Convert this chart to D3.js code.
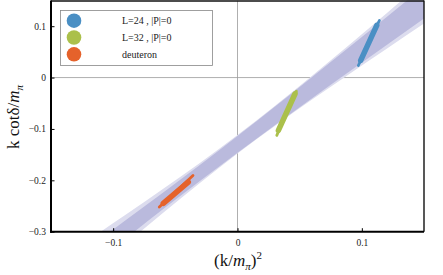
<!DOCTYPE html>
<html><head><meta charset="utf-8">
<script src="https://cdn.jsdelivr.net/npm/d3@7"></script>
<style>body{margin:0;background:#fff}svg{display:block}</style>
</head><body><svg id="c" width="443" height="275"></svg>
<script>
// ---- data ----
const xTicks = [-0.1, 0, 0.1];
const yTicks = [-0.3, -0.2, -0.1, 0, 0.1];
const bandX      = [-0.12, -0.09, -0.06, -0.03, 0, 0.03, 0.06, 0.09, 0.12, 0.15, 0.16];
const bandCenter = [-0.351, -0.2956, -0.2404, -0.1852, -0.130, -0.0748, -0.0196, 0.0356, 0.0908, 0.146, 0.1644];
const innerHalf  = [0.0205, 0.0179, 0.0161, 0.0155, 0.0161, 0.0179, 0.0205, 0.0237, 0.0272, 0.031, 0.0323];
const outerHalf  = [0.0345, 0.0285, 0.0233, 0.0195, 0.018, 0.0195, 0.0233, 0.0285, 0.0345, 0.041, 0.0432];
const seriesNames = ["L=24 , |P|=0", "L=32 , |P|=0", "deuteron"];
const seriesColors = ["#4a8fc4", "#abc04b", "#e5622b"];
// each: [x1,y1,x2,y2] for thin whisker and thick body
const thinSeg = [
  [0.0972, 0.0235, 0.1141, 0.1111],
  [0.0316, -0.1126, 0.0474, -0.0265],
  [-0.0629, -0.252, -0.0358, -0.1905]
];
const thickSeg = [
  [0.0991, 0.0333, 0.112, 0.1014],
  [0.0329, -0.1029, 0.0463, -0.0315],
  [-0.0597, -0.245, -0.0396, -0.2035]
];

// ---- layout ----
const L = 51, R = 424, T = 0.5, B = 231.7;
const svg = d3.select("#c");
const x = d3.scaleLinear().domain([-0.15, 0.15]).range([L, R]);
const y = d3.scaleLinear().domain([-0.3, 0.15]).range([B, T]);
const serif = "'Liberation Serif', 'Times New Roman', serif";

svg.append("defs").append("clipPath").attr("id", "clip")
  .append("rect").attr("x", L).attr("y", T).attr("width", R - L).attr("height", B - T);

const g = svg.append("g").attr("clip-path", "url(#clip)");

// gridlines
g.append("line").attr("x1", x(0)).attr("x2", x(0)).attr("y1", T).attr("y2", B)
  .attr("stroke", "#9a9a9a").attr("stroke-width", 0.8);
g.append("line").attr("x1", L).attr("x2", R).attr("y1", y(0)).attr("y2", y(0))
  .attr("stroke", "#9a9a9a").attr("stroke-width", 0.8);

const idx = d3.range(bandX.length);
const area = (half) => d3.area()
  .x(i => x(bandX[i]))
  .y0(i => y(bandCenter[i] - half[i]))
  .y1(i => y(bandCenter[i] + half[i]))
  .curve(d3.curveMonotoneX);
g.append("path").attr("d", area(outerHalf)(idx)).attr("fill", "#dcdcee");
g.append("path").attr("d", area(innerHalf)(idx)).attr("fill", "#babadd");

// data marks
const seg = d3.line().x(d => x(d[0])).y(d => y(d[1]));
seriesColors.forEach((c, i) => {
  const t = thinSeg[i], k = thickSeg[i];
  g.append("path").attr("d", seg([[t[0], t[1]], [t[2], t[3]]]))
    .attr("stroke", c).attr("stroke-width", 2.8).attr("stroke-linecap", "round").attr("fill", "none");
  g.append("path").attr("d", seg([[k[0], k[1]], [k[2], k[3]]]))
    .attr("stroke", c).attr("stroke-width", 5.5).attr("stroke-linecap", "round").attr("fill", "none");
});

// frame
svg.append("line").attr("x1", L).attr("x2", R).attr("y1", T + 0.5).attr("y2", T + 0.5).attr("stroke", "#111").attr("stroke-width", 1.4);
svg.append("line").attr("x1", R).attr("x2", R).attr("y1", T).attr("y2", B).attr("stroke", "#111").attr("stroke-width", 1.4);

// axes
const fmt = d => d === 0 ? "0" : d3.format(".1f")(d).replace("-", "\u2212");
const xAxis = d3.axisBottom(x).tickValues(xTicks).tickSize(-3.5).tickPadding(6).tickFormat(fmt);
const yAxis = d3.axisLeft(y).tickValues(yTicks).tickSize(-3.5).tickPadding(5).tickFormat(fmt);

const gx = svg.append("g").attr("transform", `translate(0,${B})`).call(xAxis);
const gy = svg.append("g").attr("transform", `translate(${L},0)`).call(yAxis);
[gx, gy].forEach(a => {
  a.select(".domain").attr("stroke", "#000").attr("stroke-width", 2);
  a.selectAll(".tick line").attr("stroke", "#000").attr("stroke-width", 1);
  a.selectAll(".tick text").style("font-family", serif)
    .attr("font-size", 9.5).attr("fill", "#222");
});
gx.selectAll(".tick text").attr("dy", "0.9em");
gy.select(".domain").attr("d", `M0,${T}V${B + 1}`);
gx.select(".domain").attr("d", `M${L - 1},0H${R}`);

// axis titles
const xt = svg.append("text").attr("x", 238).attr("y", 266).attr("text-anchor", "middle")
  .style("font-family", serif).attr("font-size", 17).attr("fill", "#111");
xt.append("tspan").text("(k/");
xt.append("tspan").attr("font-style", "italic").text("m");
xt.append("tspan").attr("font-style", "italic").attr("font-size", 11).attr("dy", 3.5).text("\u03c0");
xt.append("tspan").attr("dy", -3.5).text(")");
xt.append("tspan").attr("font-size", 11).attr("dy", -7).text("2");

const yt = svg.append("text").attr("transform", "translate(19,117) rotate(-90)").attr("text-anchor", "middle")
  .style("font-family", serif).attr("font-size", 17).attr("fill", "#111");
yt.append("tspan").text("k cot\u03b4/");
yt.append("tspan").attr("font-style", "italic").text("m");
yt.append("tspan").attr("font-style", "italic").attr("font-size", 11).attr("dy", 3.5).text("\u03c0");

// legend
const lg = svg.append("g");
lg.append("rect").attr("x", 60.5).attr("y", 10.5).attr("width", 152).attr("height", 55)
  .attr("fill", "#fff").attr("stroke", "#888").attr("stroke-width", 0.8);
seriesNames.forEach((n, i) => {
  const cy = 20.7 + i * 16.8;
  lg.append("circle").attr("cx", 74).attr("cy", cy).attr("r", 7.3).attr("fill", seriesColors[i]);
  lg.append("text").attr("x", 122).attr("y", cy + 3.4).style("font-family", serif)
    .attr("font-size", 10).attr("fill", "#222").text(n);
});
</script></body></html>
